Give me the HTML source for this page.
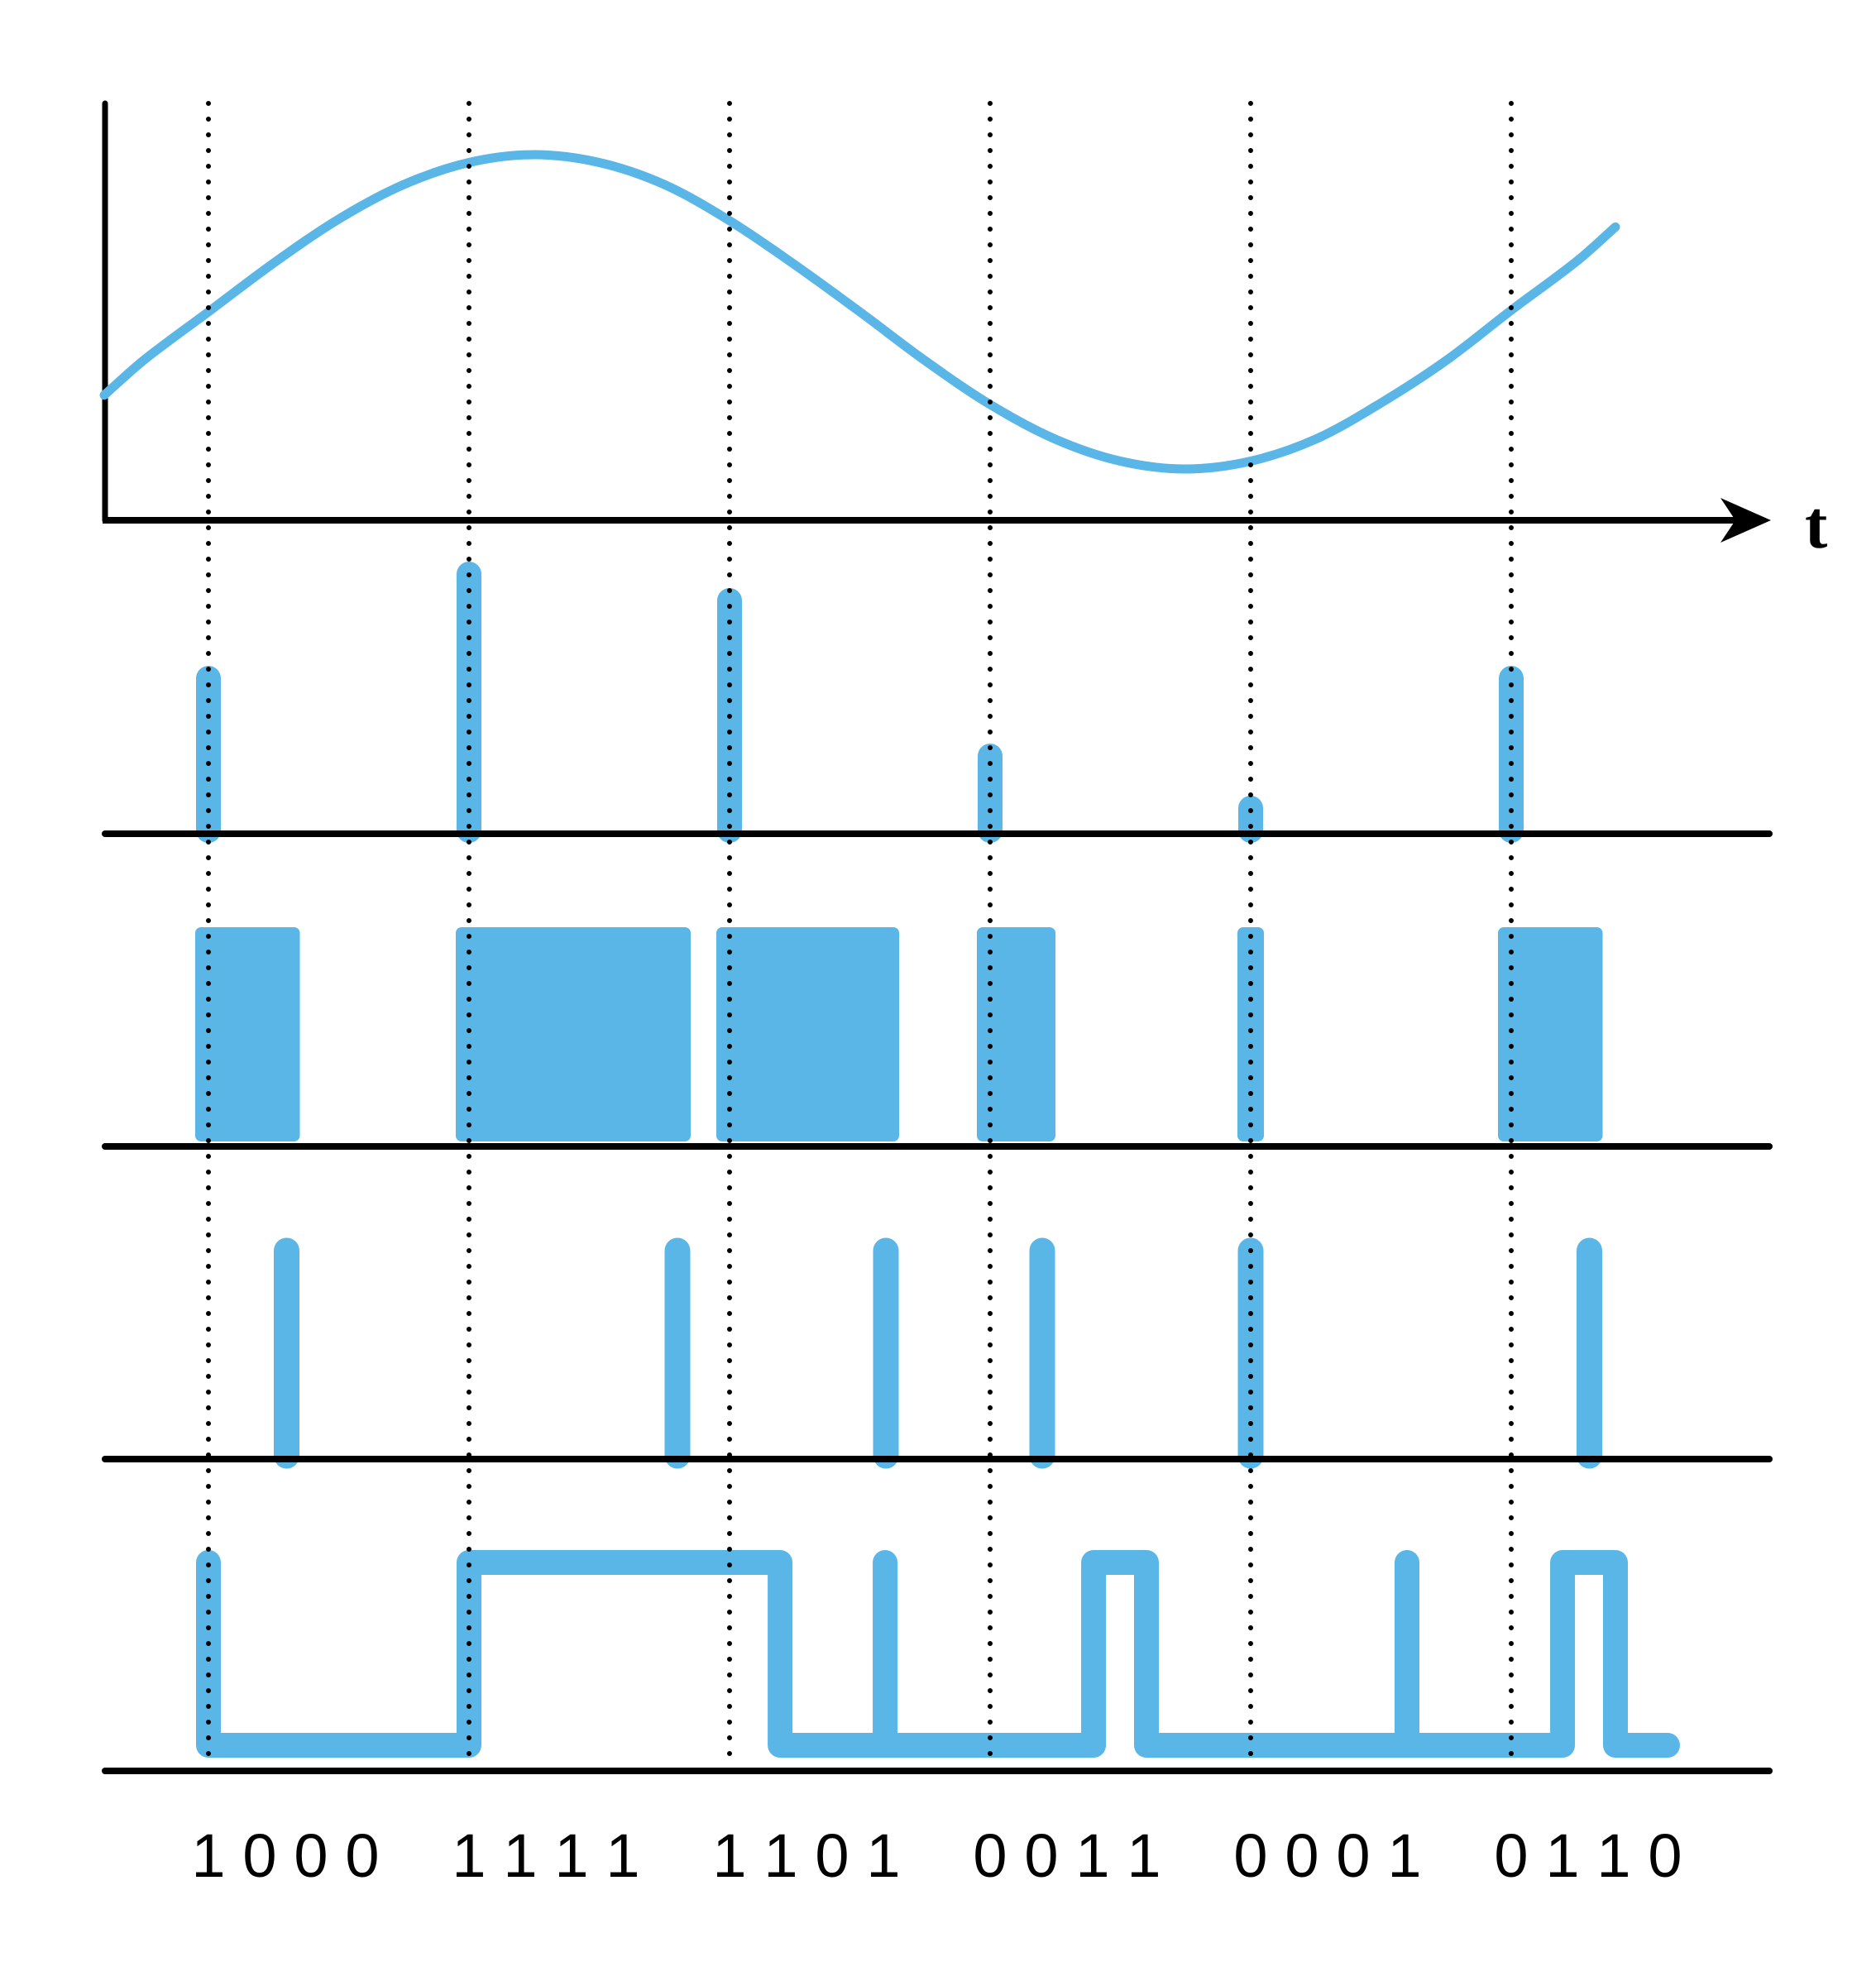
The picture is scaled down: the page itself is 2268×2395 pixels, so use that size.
<!DOCTYPE html>
<html><head><meta charset="utf-8"><style>
html,body{margin:0;padding:0;background:#fff;}
svg{display:block;}
</style></head><body>
<svg id="chart" width="2268" height="2395" viewBox="0 0 2268 2395" xmlns="http://www.w3.org/2000/svg">
<g id="guides"></g>
<g id="analog">
<line x1="127" y1="125" x2="127" y2="629" stroke="#000" stroke-width="7" stroke-linecap="round"/>
<line x1="124" y1="629" x2="2100" y2="629" stroke="#000" stroke-width="8"/>
<polygon points="2141,629 2080,602 2098,629 2080,656" fill="#000"/>
<text x="2182" y="662" font-family="Liberation Serif, serif" font-weight="bold" font-size="82">t</text>
</g>
<g id="rows"></g>
<g id="labels"></g>
</svg>
<script>
// ---- data ----
const sampleTimes = [0, 1, 2, 3, 4, 5];
const codeLabels = ["1000", "1111", "1101", "0011", "0001", "0110"];
const analogT = [-0.4, -0.25, 0, 0.25, 0.5, 0.75, 1, 1.25, 1.5, 1.75, 2, 2.25, 2.5, 2.75, 3, 3.25, 3.5, 3.75, 4, 4.25, 4.5, 4.75, 5, 5.25, 5.4];
const analogV = [-0.53, -0.31, 0.0, 0.31, 0.59, 0.81, 0.95, 1.0, 0.95, 0.81, 0.58, 0.30, 0.0, -0.31, -0.59, -0.81, -0.95, -1.0, -0.95, -0.81, -0.58, -0.31, 0.01, 0.32, 0.54];
const sampleHeights = [20.3, 32.9, 29.7, 10.9, 4.6, 20.3];
const pulseWidths = [0.30, 0.80, 0.60, 0.20, 0.0, 0.30];
const nrzT = [0,0,1,1,2.194,2.194,2.597,2.597,2.597,3.397,3.397,3.6,3.6,4.6,4.6,4.6,5.197,5.197,5.4,5.4,5.6];
const nrzL = [1,0,0,1,1,0,0,1,0,0,1,1,0,0,1,0,0,1,1,0,0];

// ---- scales ----
const NS = "http://www.w3.org/2000/svg";
const BLUE = "#59b6e7";
const xT = t => 252 + t * 315;
const yAnalog = v => 377 - 190 * v;
const stemBase = 1008, pwmBase = 1386, ppmBase = 1764, nrzBase = 2141;
const yStem = h => stemBase - h * 10;
const yNrz = l => 2110 - l * 221;
function mk(tag, attrs, parent) {
  const e = document.createElementNS(NS, tag);
  for (const k in attrs) e.setAttribute(k, attrs[k]);
  parent.appendChild(e);
  return e;
}
const svg = document.getElementById("chart");
const guides = document.getElementById("guides");
const rows = document.getElementById("rows");
const labels = document.getElementById("labels");

// guide lines
sampleTimes.forEach(t => {
  const l = mk("line", {x1: xT(t), y1: 125, x2: xT(t), y2: 2128, stroke: "#000", "stroke-width": 6, "stroke-linecap": "round", "stroke-dasharray": "0 19"}, guides);
  
  
});

// analog curve (non-uniform Catmull-Rom)
(function () {
  const p = analogT.map((t, i) => [xT(t), yAnalog(analogV[i])]);
  let d = "M" + p[0][0] + "," + p[0][1];
  const n = p.length;
  const tan = i => {
    const a = p[Math.max(0, i - 1)], b = p[Math.min(n - 1, i + 1)];
    const dx = b[0] - a[0];
    return [(b[0] - a[0]) / dx, (b[1] - a[1]) / dx];
  };
  for (let i = 0; i < n - 1; i++) {
    const h = (p[i + 1][0] - p[i][0]) / 3;
    const m1 = tan(i), m2 = tan(i + 1);
    const c1 = [p[i][0] + m1[0] * h, p[i][1] + m1[1] * h];
    const c2 = [p[i + 1][0] - m2[0] * h, p[i + 1][1] - m2[1] * h];
    d += " C" + c1[0] + "," + c1[1] + " " + c2[0] + "," + c2[1] + " " + p[i + 1][0] + "," + p[i + 1][1];
  }
  const path = mk("path", {d: d, fill: "none", stroke: BLUE, "stroke-width": 11, "stroke-linecap": "round"}, document.getElementById("analog"));
  
  
})();

// baselines
[stemBase, pwmBase, ppmBase, nrzBase].forEach((y, i) => {
  const b = mk("line", {x1: 127, y1: y, x2: 2139, y2: y, stroke: "#000", "stroke-width": 8, "stroke-linecap": "round"}, svg);
  
  
});

// sample stems
sampleTimes.forEach((t, i) => {
  const s = mk("line", {x1: xT(t), y1: yStem(sampleHeights[i]) + 15, x2: xT(t), y2: stemBase - 4, stroke: BLUE, "stroke-width": 30, "stroke-linecap": "round"}, rows);
  
  
  const c = mk("rect", {x: xT(t) - 15, y: stemBase - 30, width: 30, height: 26, fill: BLUE}, rows);
  
  
});

// PWM rects
sampleTimes.forEach((t, i) => {
  const x0 = xT(t) - 16, x1 = xT(t + pulseWidths[i]) + 16;
  const r = mk("rect", {x: x0, y: 1121, width: x1 - x0, height: pwmBase - 6 - 1121, rx: 7, fill: BLUE}, rows);
  
  
});

// PPM pulses
sampleTimes.forEach((t, i) => {
  const x = xT(t + pulseWidths[i]);
  const s = mk("line", {x1: x, y1: 1512, x2: x, y2: ppmBase - 4, stroke: BLUE, "stroke-width": 31, "stroke-linecap": "round"}, rows);
  
  
  const c = mk("rect", {x: x - 15.5, y: ppmBase - 30, width: 31, height: 26, fill: BLUE}, rows);
  
  
});

// NRZ line
(function () {
  const pts = nrzT.map((t, i) => xT(t) + "," + yNrz(nrzL[i])).join(" ");
  const pl = mk("polyline", {points: pts, fill: "none", stroke: BLUE, "stroke-width": 30, "stroke-linecap": "round", "stroke-linejoin": "round"}, rows);
  
  
})();

// code labels
sampleTimes.forEach((t, i) => {
  codeLabels[i].split("").forEach((ch, j) => {
    const tx = mk("text", {x: xT(t) + j * 62, y: 2269, "text-anchor": "middle", "font-family": "Liberation Sans, sans-serif", "font-size": 74, fill: "#000"}, labels);
    tx.textContent = ch;
    
    
  });
});
svg.appendChild(guides);
</script>
</body></html>
